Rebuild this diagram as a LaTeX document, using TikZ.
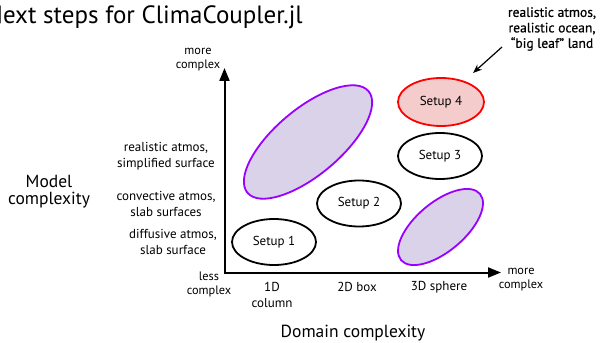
\documentclass[tikz,border=0pt]{standalone}
\usepackage{fontspec}
\setmainfont{PT Sans}
\newfontfamily\annfont{PT Sans}[FakeBold=0.5]
\usetikzlibrary{shapes.geometric,arrows.meta}
\definecolor{lav}{HTML}{D9D2E9}
\definecolor{vio}{HTML}{9900FF}
\definecolor{pinkfill}{HTML}{F4CCCC}
\begin{document}
\begin{tikzpicture}[x=1pt,y=-1pt,
  setupbox/.style={ellipse,draw=black,line width=1.8pt,minimum width=84pt,minimum height=46pt,inner sep=0pt,font=\fontsize{13}{15}\selectfont},
  blob/.style={ellipse,draw=vio,fill=lav,line width=1.8pt,inner sep=0pt},
  lab/.style={align=center,font=\fontsize{13}{16}\selectfont,inner sep=0pt},
  small/.style={align=center,font=\fontsize{12.3}{14}\selectfont,inner sep=0pt}]
\useasboundingbox (0,0) rectangle (601,342);
% title
\node[anchor=base west,inner sep=0pt,font=\fontsize{25}{28}\selectfont] (title) at (-14,24) {Next steps for ClimaCoupler.jl};
% blobs
\node[blob,rotate=40,minimum width=158pt,minimum height=66pt] (big) at (308,142) {};
\node[blob,rotate=40,minimum width=103pt,minimum height=49pt] (small) at (440.5,227) {};
% setups
\node[setupbox] (s1) at (274,242) {Setup 1};
\node[setupbox] (s2) at (359,203.5) {Setup 2};
\node[setupbox] (s3) at (440,156) {Setup 3};
\node[setupbox,draw=red,fill=pinkfill,minimum width=86pt,minimum height=48pt] (s4) at (441,102) {Setup 4};
% axes
\coordinate (O) at (224.5,272.5);
\coordinate (ytip) at (224.5,68);
\coordinate (xtip) at (501,272.5);
\draw[line width=2pt,{Triangle[length=13pt,width=10pt]}-{Triangle[length=13pt,width=10pt]}] (ytip) -- (O) -- (xtip);
% y labels
\node[small] (ymore) at (198,60) {more\\complex};
\node[lab] (yl3) at (166,156) {realistic atmos,\\simplified surface};
\node[lab] (yl2) at (166,203.5) {convective atmos,\\slab surfaces};
\node[lab] (yl1) at (173,242) {diffusive atmos,\\slab surface};
\node[small] (less) at (209,284.5) {less\\complex};
% x labels
\node[lab] (x1) at (272,295) {1D\\column};
\node[lab] (x2) at (357,287) {2D box};
\node[lab] (x3) at (439,287) {3D sphere};
\node[small] (xmore) at (521,280) {more\\complex};
% axis titles
\node[align=center,inner sep=0pt,font=\fontsize{17.5}{17}\selectfont] (ytitle) at (49,191.5) {Model\\complexity};
\node[inner sep=0pt,font=\fontsize{17.5}{18}\selectfont] (xtitle) at (353,333) {Domain complexity};
% annotation
\node[align=center,inner sep=0pt,font=\annfont\fontsize{13.6}{15.5}\selectfont] (ann) at (552,29) {realistic atmos,\\realistic ocean,\\“big leaf” land};
\coordinate (a1) at (502,47);
\coordinate (a2) at (473,73);
\draw[line width=1.2pt,-{Stealth[length=9pt,width=7pt]}] (a1) -- (a2);
\end{tikzpicture}
\end{document}
